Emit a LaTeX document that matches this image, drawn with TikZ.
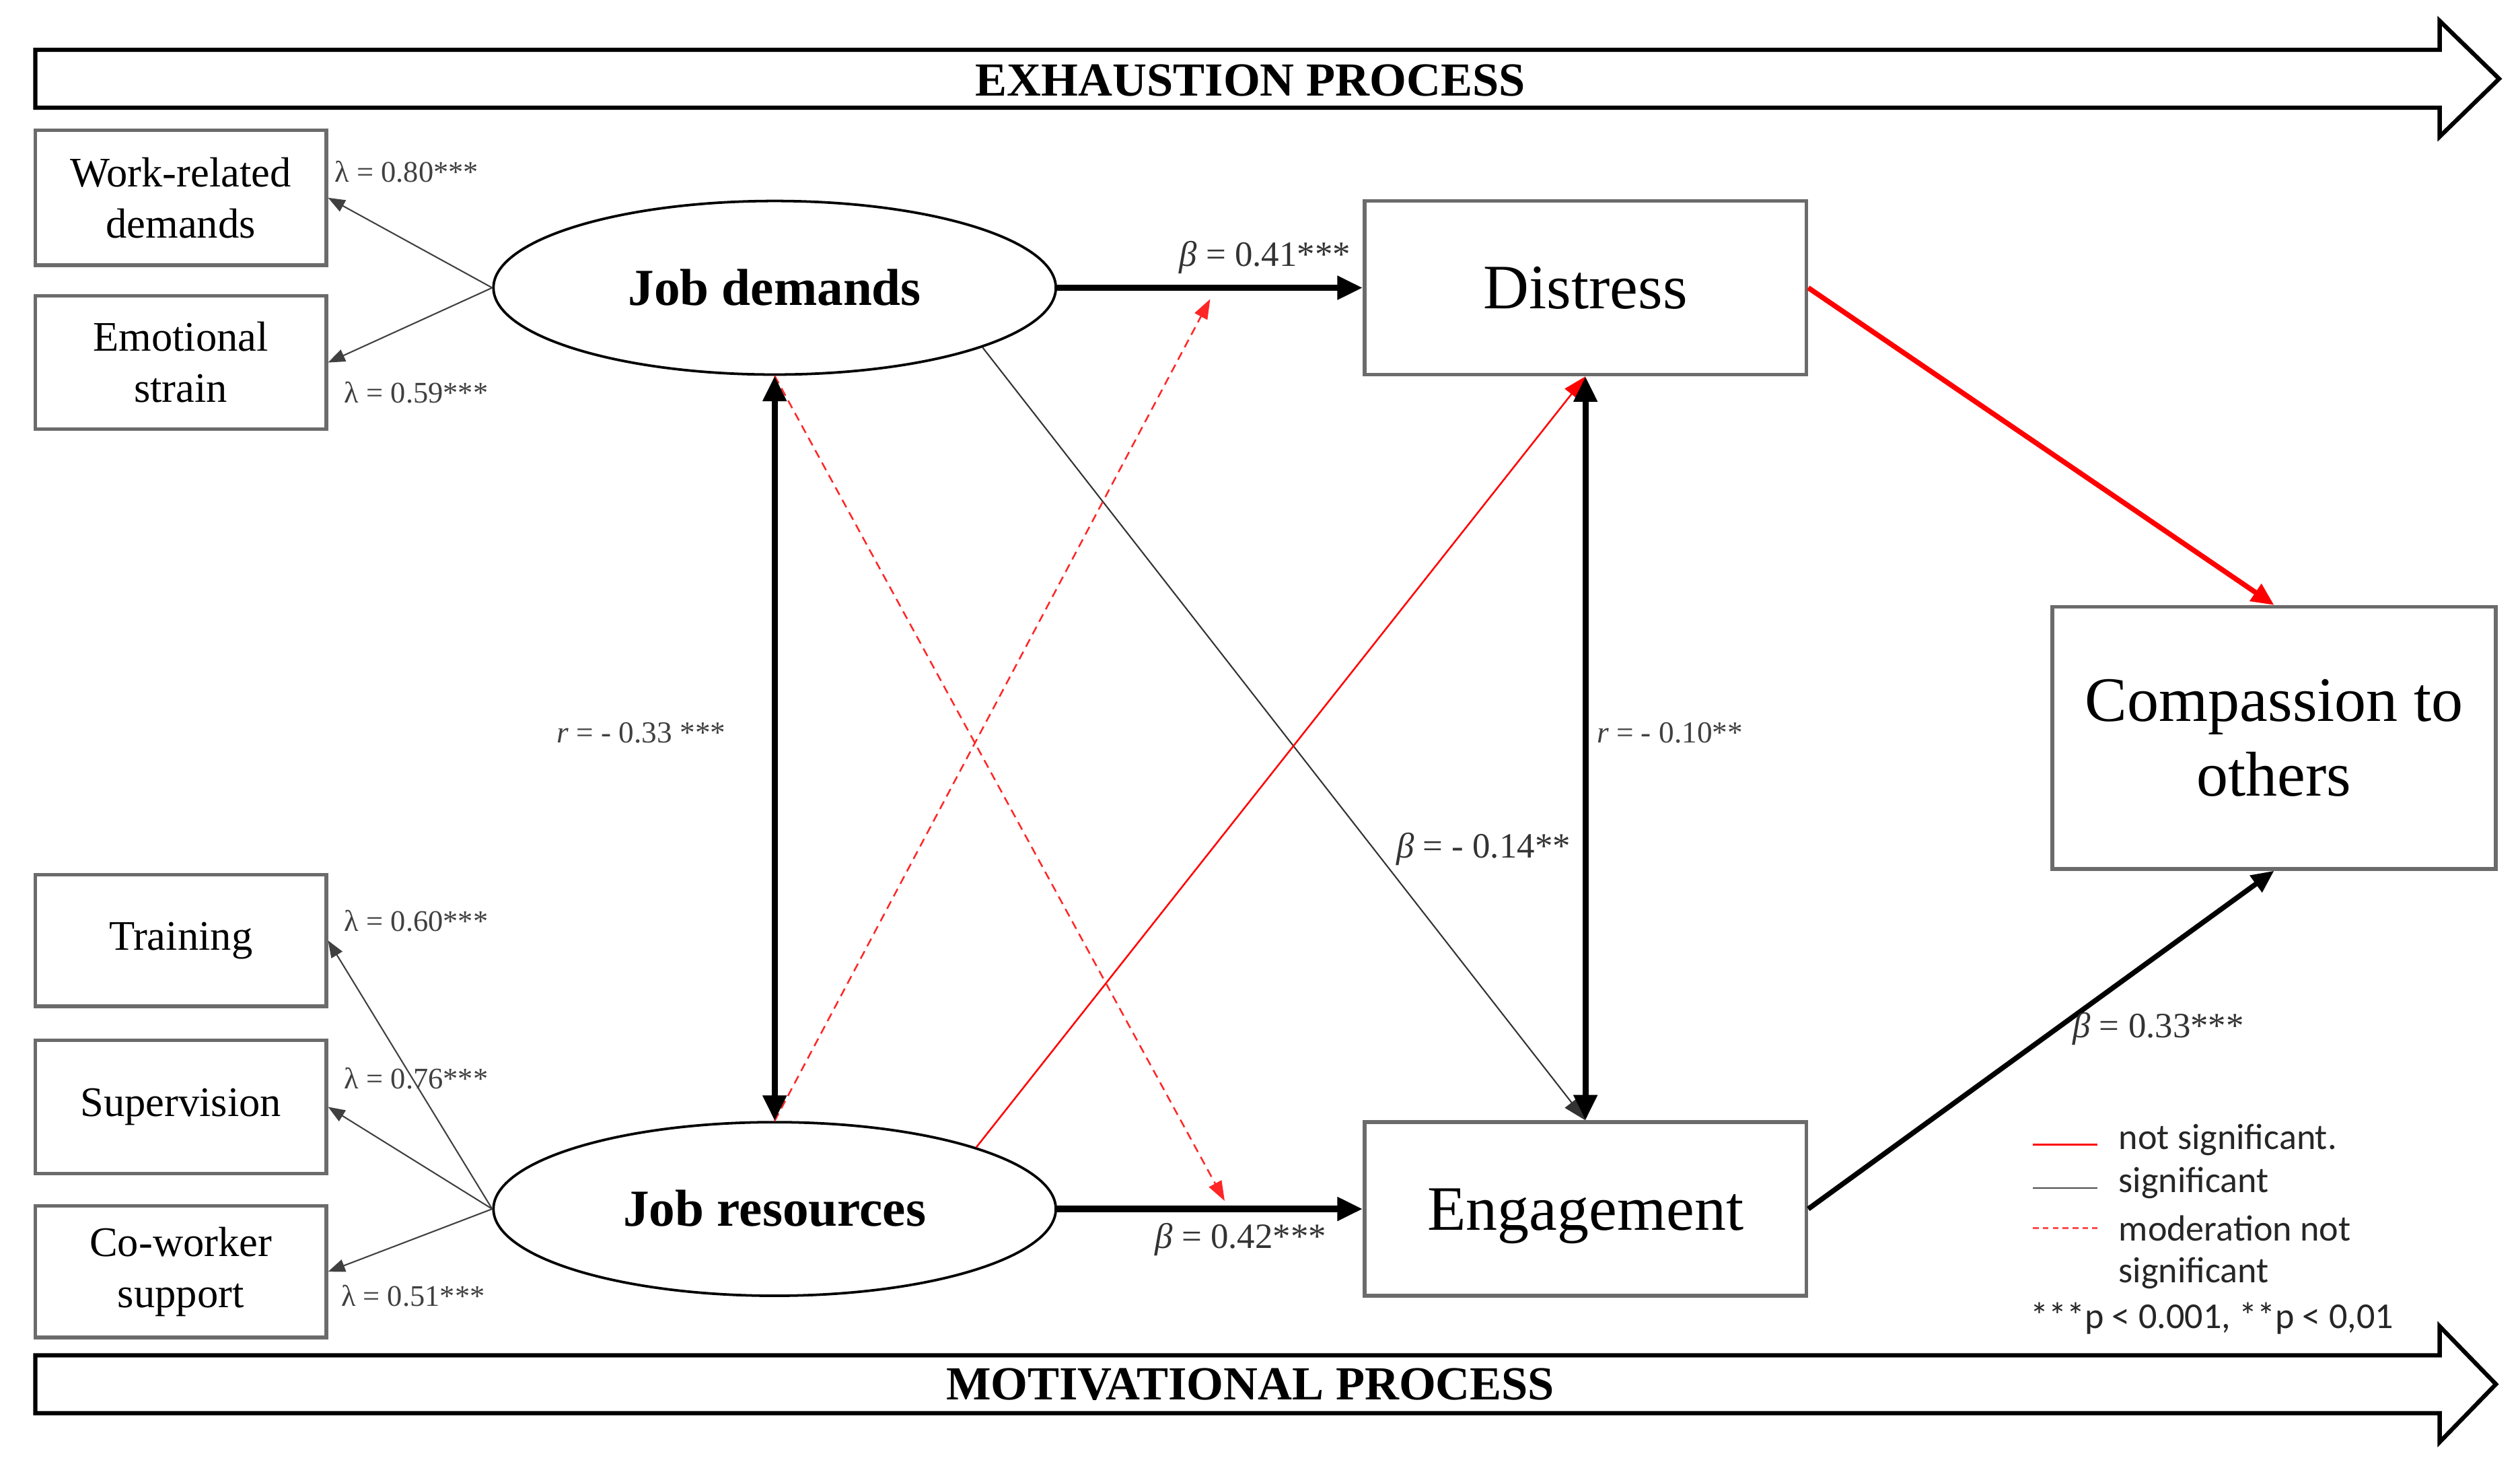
\documentclass[tikz,border=0pt]{standalone}
\usepackage{fontspec}
\setmainfont{Liberation Serif}
\newfontfamily\legendfont{Carlito}
\usetikzlibrary{shapes.geometric,arrows.meta}
\begin{document}
\begin{tikzpicture}[x=0.02cm,y=-0.02cm,
  procline/.style={draw=black, line width=1.5pt, line join=miter},
  proctext/.style={font=\bfseries\fontsize{16.8}{20}\selectfont, inner sep=0pt},
  obsbox/.style={draw=black!58, line width=1.3pt, minimum width=3.62cm, inner sep=0pt, align=center, font=\fontsize{14.9}{18.1}\selectfont},
  latent/.style={ellipse, draw=black, line width=0.9pt, minimum width=7cm, minimum height=2.16cm, inner sep=0pt, text height=12.2pt, text depth=0pt, font=\bfseries\fontsize{18.4}{22}\selectfont},
  bigbox/.style={draw=black!58, line width=1.3pt, minimum width=5.5cm, inner sep=0pt, font=\fontsize{22.4}{26.6}\selectfont},
  onetext/.style={text height=14.8pt, text depth=0pt},
  load/.style={draw=black!75, line width=0.5pt, -{Triangle[length=6pt,width=4.5pt]}},
  lamlab/.style={text=black!75, inner sep=0pt, font=\fontsize{10.6}{12}\selectfont},
  betalab/.style={text=black!80, inner sep=0pt, font=\fontsize{12.6}{14}\selectfont},
  rlab/.style={text=black!75, inner sep=0pt, font=\fontsize{10.8}{12}\selectfont},
  thickarr/.style={draw=black, line width=2.2pt, -{Triangle[length=9pt,width=8pt]}},
  dblarr/.style={draw=black, line width=2.2pt, {Triangle[length=9pt,width=8pt]}-{Triangle[length=9pt,width=8pt]}},
  thinarr/.style={draw=black!80, line width=0.5pt, -{Triangle[length=8pt,width=6pt]}},
  nsarr/.style={draw=red, line width=0.6pt, -{Triangle[length=8pt,width=6pt]}},
  modarr/.style={draw=red!85, line width=0.6pt, dash pattern=on 3pt off 2pt, -{Triangle[length=7pt,width=5pt]}},
  legtext/.style={anchor=west, inner sep=0pt, font=\legendfont\fontsize{12.9}{15}\selectfont, text=black!85}
]
\useasboundingbox (0,0) rectangle (1568,909);

% process arrows
\draw[procline] (22,31) -- (1518,31) -- (1518,13) -- (1555,49) -- (1518,85) -- (1518,67) -- (22,67) -- cycle;
\node[proctext] (exh) at (778,50) {EXHAUSTION PROCESS};
\draw[procline] (22,843) -- (1518,843) -- (1518,825) -- (1553,861) -- (1518,897) -- (1518,879) -- (22,879) -- cycle;
\node[proctext] (mot) at (778,861) {MOTIVATIONAL PROCESS};

% observed indicators
\node[obsbox, minimum height=1.68cm] (wrd) at (112.5,123) {Work-related\\demands};
\node[obsbox, minimum height=1.66cm] (emo) at (112.5,225.5) {Emotional\\strain};
\node[obsbox, minimum height=1.64cm] (trn) at (112.5,585) {Training};
\node[obsbox, minimum height=1.66cm] (sup) at (112.5,688.5) {Supervision};
\node[obsbox, minimum height=1.64cm] (cow) at (112.5,791) {Co-worker\\support};

% latent variables
\node[latent] (jd) at (482,179) {Job demands};
\node[latent] (jr) at (482,752) {Job resources};

% outcomes
\node[bigbox, onetext, minimum height=2.16cm] (dis) at (986.5,179) {Distress};
\node[bigbox, onetext, minimum height=2.16cm] (eng) at (986.5,752) {Engagement};
\node[bigbox, align=center, minimum width=5.52cm, minimum height=3.26cm] (com) at (1415,459) {Compassion to\\others};

% loadings
\draw[load] (jd.west) -- (wrd.east);
\draw[load] (jd.west) -- (emo.east);
\draw[load] (jr.west) -- (trn.east);
\draw[load] (jr.west) -- (sup.east);
\draw[load] (jr.west) -- (cow.east);
\node[lamlab] (l1) at (253,107) {λ = 0.80***};
\node[lamlab] (l2) at (259,244) {λ = 0.59***};
\node[lamlab] (l3) at (259,573) {λ = 0.60***};
\node[lamlab] (l4) at (259,671) {λ = 0.76***};
\node[lamlab] (l5) at (257,806) {λ = 0.51***};

% moderation targets
\coordinate (m1) at (753,186);
\coordinate (m2) at (762,747);

% thin / red paths
\draw[thinarr] (jd.-16.5) -- (eng.north);
\draw[nsarr] (jr.17) -- (dis.south);
\draw[modarr] (jr.north) -- (m1);
\draw[modarr] (jd.south) -- (m2);

% main paths
\draw[thickarr] (jd.east) -- (dis.west);
\draw[thickarr] (jr.east) -- (eng.west);
\draw[dblarr] (jd.south) -- (jr.north);
\draw[dblarr] (dis.south) -- (eng.north);
\draw[draw=red, line width=1.8pt, -{Triangle[length=8pt,width=7pt]}] (dis.east) -- (com.north);
\draw[draw=black, line width=1.8pt, -{Triangle[length=8pt,width=7pt]}] (eng.east) -- (com.south);

% path labels
\node[betalab] (b1) at (787,160) {\textit{β} = 0.41***};
\node[betalab] (b2) at (772,771) {\textit{β} = 0.42***};
\node[rlab] (r1) at (399,456) {\textit{r} = - 0.33 ***};
\node[rlab] (r2) at (1039,456) {\textit{r} = - 0.10**};
\node[betalab] (b3) at (923,528) {\textit{β} = - 0.14**};
\node[betalab] (b4) at (1343,640) {\textit{β} = 0.33***};

% legend
\draw[red, line width=0.6pt] (1265,712) -- (1305,712);
\draw[black!70, line width=0.6pt] (1265,739) -- (1305,739);
\draw[red!70, line width=0.6pt, dash pattern=on 2pt off 1.5pt] (1265,764) -- (1305,764);
\node[legtext] (lg1) at (1318,709) {not significant.};
\node[legtext] (lg2) at (1318,736) {significant};
\node[legtext] (lg3) at (1318,764) {moderation not};
\node[legtext] (lg4) at (1318,792) {significant};
\node[legtext] (lg5) at (1263,820) {***p < 0.001, **p < 0,01};
\end{tikzpicture}
\end{document}
